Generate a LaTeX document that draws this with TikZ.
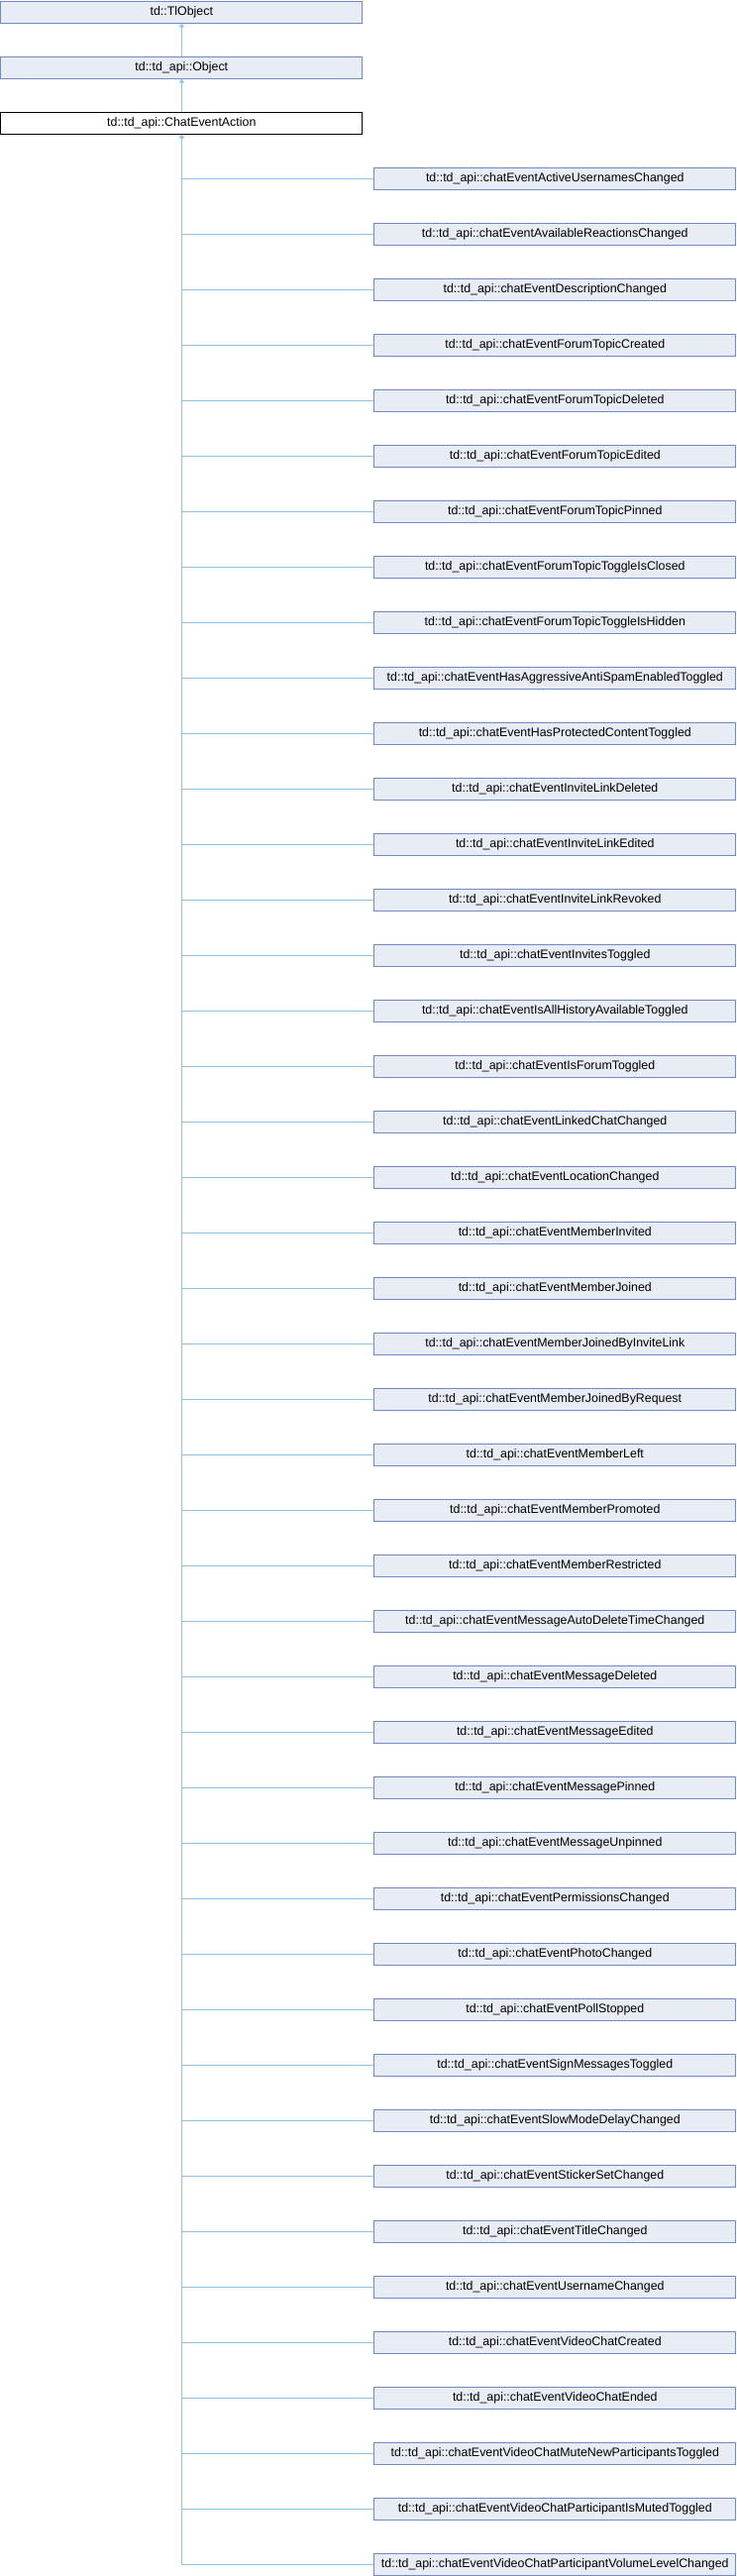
\documentclass[tikz,border=0pt]{standalone}
\usepackage{fontspec}
\setmainfont{Liberation Sans}
\usetikzlibrary{arrows.meta}
\definecolor{boxfill}{HTML}{E8ECF5}
\definecolor{boxdraw}{HTML}{6E8BC8}
\definecolor{edgecol}{HTML}{8EC6E8}
\tikzset{
  cls/.style={draw=boxdraw, fill=boxfill, line width=1pt, minimum width=365pt, minimum height=22pt, inner sep=0pt, font=\fontsize{12.4}{14}\selectfont},
  cur/.style={cls, draw=black, fill=white},
  edge/.style={draw=edgecol, line width=1pt},
  inh/.style={edge, -{Triangle[length=4pt,width=5pt,fill=edgecol]}},
}
\begin{document}
\begin{tikzpicture}[x=1pt,y=-1pt]
\useasboundingbox (0,0) rectangle (744,2600);
\node[cls] (tl) at (183.3,12) {td::TlObject};
\node[cls] (obj) at (183.3,68) {td::td\_api::Object};
\node[cur] (cea) at (183.3,124) {td::td\_api::ChatEventAction};
\draw[inh] (obj) -- (tl);
\draw[inh] (cea) -- (obj);
\foreach \name [count=\i from 0] in {
ActiveUsernamesChanged,
AvailableReactionsChanged,
DescriptionChanged,
ForumTopicCreated,
ForumTopicDeleted,
ForumTopicEdited,
ForumTopicPinned,
ForumTopicToggleIsClosed,
ForumTopicToggleIsHidden,
HasAggressiveAntiSpamEnabledToggled,
HasProtectedContentToggled,
InviteLinkDeleted,
InviteLinkEdited,
InviteLinkRevoked,
InvitesToggled,
IsAllHistoryAvailableToggled,
IsForumToggled,
LinkedChatChanged,
LocationChanged,
MemberInvited,
MemberJoined,
MemberJoinedByInviteLink,
MemberJoinedByRequest,
MemberLeft,
MemberPromoted,
MemberRestricted,
MessageAutoDeleteTimeChanged,
MessageDeleted,
MessageEdited,
MessagePinned,
MessageUnpinned,
PermissionsChanged,
PhotoChanged,
PollStopped,
SignMessagesToggled,
SlowModeDelayChanged,
StickerSetChanged,
TitleChanged,
UsernameChanged,
VideoChatCreated,
VideoChatEnded,
VideoChatMuteNewParticipantsToggled,
VideoChatParticipantIsMutedToggled,
VideoChatParticipantVolumeLevelChanged}{
  \node[cls] (c\i) at (560.3,{180+56*\i}) {td::td\_api::chatEvent\name};
  \draw[edge] (cea.south |- c\i.west) -- (c\i.west);
}
\coordinate (trunk) at (cea.south |- c43.west);
\draw[inh] (trunk) -- (cea);
\end{tikzpicture}
\end{document}
